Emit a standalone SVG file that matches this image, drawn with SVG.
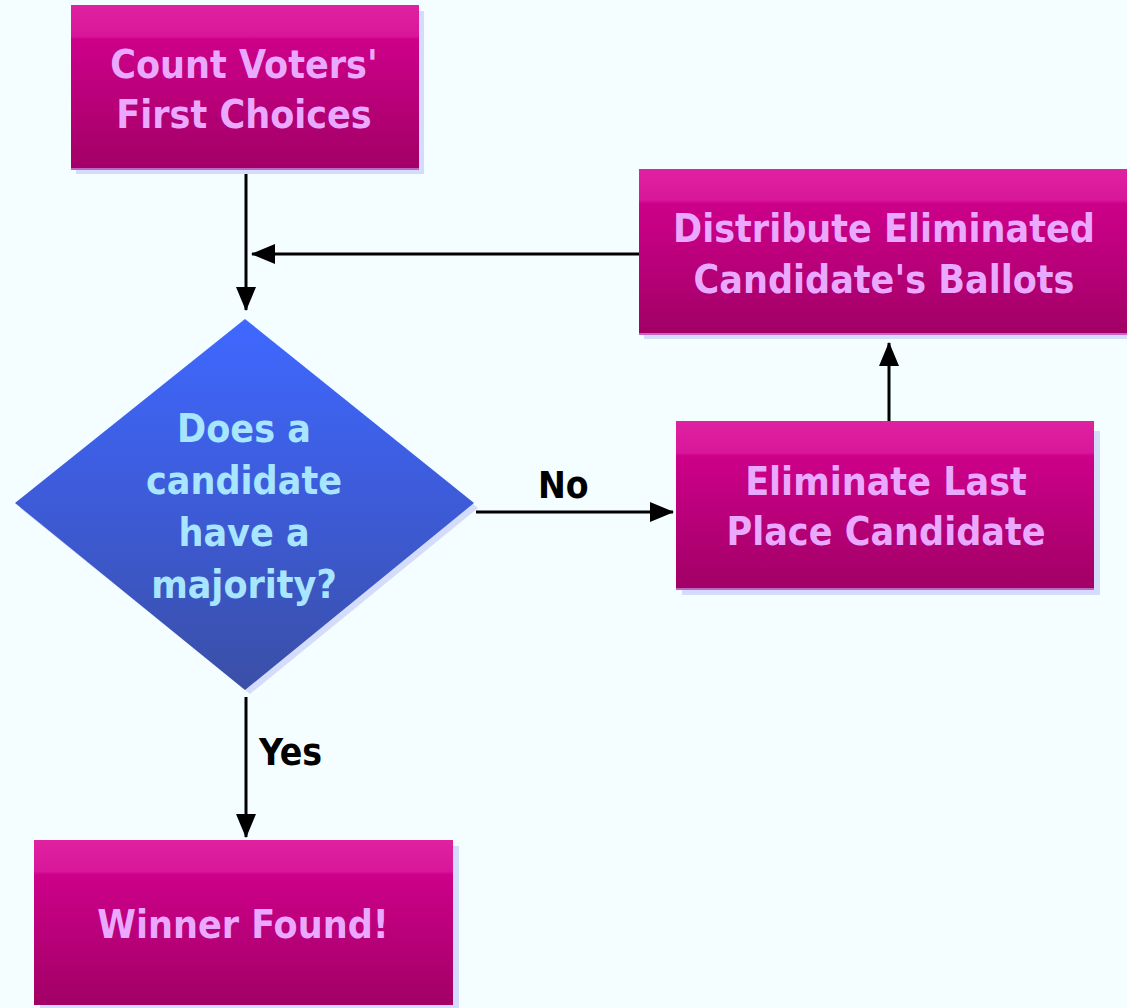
<svg xmlns="http://www.w3.org/2000/svg" width="1127" height="1008" viewBox="0 0 1127 1008">
<style>
.bg{fill:#f4fdff}
.box{fill:url(#pink)}
.shadow{fill:#d3dcfb}
.edge{fill:#c266c6}
.t{font-family:"DejaVu Sans Condensed","DejaVu Sans",Verdana,sans-serif;font-stretch:condensed;font-weight:bold;font-size:39px;fill:#eaa8ff;text-anchor:middle}
.td{font-family:"DejaVu Sans Condensed","DejaVu Sans",Verdana,sans-serif;font-stretch:condensed;font-weight:bold;font-size:39px;fill:#a8e6ff;text-anchor:middle}
.lbl{font-family:"DejaVu Sans Condensed","DejaVu Sans",Verdana,sans-serif;font-stretch:condensed;font-weight:bold;font-size:37px;fill:#000;text-anchor:start}
.c{fill:none;stroke:#000;stroke-width:3;marker-end:url(#arr)}
</style>
<defs>
<linearGradient id="pink" x1="0" y1="0" x2="0" y2="1">
<stop offset="0" stop-color="#df22a0"/>
<stop offset="0.19" stop-color="#d8169a"/>
<stop offset="0.21" stop-color="#cd008a"/>
<stop offset="1" stop-color="#a20066"/>
</linearGradient>
<linearGradient id="blue" x1="0" y1="0" x2="0" y2="1">
<stop offset="0" stop-color="#3f68ff"/>
<stop offset="0.5" stop-color="#3d5bd8"/>
<stop offset="1" stop-color="#3a4fa6"/>
</linearGradient>
<marker id="arr" viewBox="0 0 24 20" refX="23" refY="10" markerWidth="24" markerHeight="20" markerUnits="userSpaceOnUse" orient="auto">
<path d="M0,0 L24,10 L0,20 z" fill="#000"/>
</marker>
</defs>
<rect class="bg" x="0" y="0" width="1127" height="1008"/>

<g id="connectors">
<path class="c" d="M246,168 V310"/>
<path class="c" d="M639,254 H252"/>
<path class="c" d="M476,512 H673"/>
<path class="c" d="M889,421 V343"/>
<path class="c" d="M246,697 V837"/>
<text class="lbl" x="538" y="498">No</text>
<text class="lbl" x="259" y="765">Yes</text>
</g>

<g id="count">
<rect class="shadow" x="76" y="11" width="348" height="163"/>
<rect class="edge" x="71" y="165" width="348" height="5"/>
<rect class="box" x="71" y="5" width="348" height="163"/>
<text class="t" x="244" y="78">Count Voters'</text>
<text class="t" x="244" y="128">First Choices</text>
</g>

<g id="distribute">
<rect class="shadow" x="644" y="175" width="488" height="164"/>
<rect class="edge" x="639" y="330" width="488" height="5"/>
<rect class="box" x="639" y="169" width="488" height="164"/>
<text class="t" x="884" y="242">Distribute Eliminated</text>
<text class="t" x="884" y="293">Candidate's Ballots</text>
</g>

<g id="decision">
<polygon points="248,324 478,508 250,694 20,508" fill="#d3dcfb"/>
<polygon points="245,319 474,503 245,690 15,503" fill="url(#blue)"/>
<text class="td" x="244" y="442">Does a</text>
<text class="td" x="244" y="494">candidate</text>
<text class="td" x="244" y="546">have a</text>
<text class="td" x="244" y="598">majority?</text>
</g>

<g id="eliminate">
<rect class="shadow" x="682" y="431" width="418" height="164"/>
<rect class="edge" x="676" y="585" width="418" height="5"/>
<rect class="box" x="676" y="421" width="418" height="167"/>
<text class="t" x="886" y="495">Eliminate Last</text>
<text class="t" x="886" y="545">Place Candidate</text>
</g>

<g id="winner">
<rect class="shadow" x="40" y="846" width="419" height="162"/>
<rect class="box" x="34" y="840" width="419" height="165"/>
<text class="t" x="243" y="938">Winner Found!</text>
</g>
</svg>
